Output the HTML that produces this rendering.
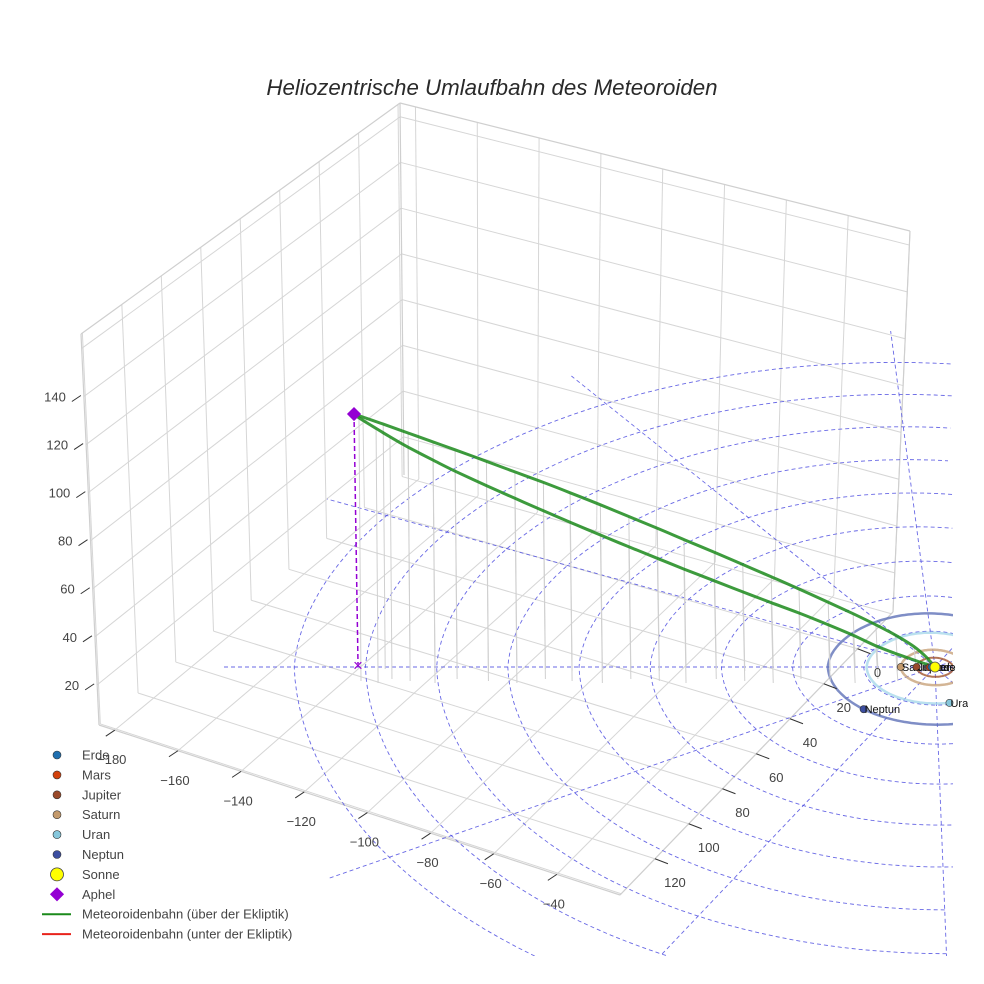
<!DOCTYPE html>
<html><head><meta charset="utf-8"><style>
html,body{margin:0;padding:0;background:#fff;width:984px;height:984px;overflow:hidden;}
svg{display:block;font-family:"Liberation Sans",sans-serif;}
</style></head><body>
<svg id="chart" width="984" height="984" viewBox="0 0 984 984" xmlns="http://www.w3.org/2000/svg">
<defs>
<clipPath id="sceneClip"><rect x="0" y="0" width="953" height="956"/></clipPath>
<clipPath id="textClip"><rect x="0" y="0" width="968" height="956"/></clipPath>
</defs>
<rect width="984" height="984" fill="#fff"/>
<text x="492" y="95" text-anchor="middle" font-size="22.3" font-style="italic" fill="#2a2a2a">Heliozentrische Umlaufbahn des Meteoroiden</text>
<g id="grid"></g>
<g id="eclip" clip-path="url(#sceneClip)"></g>
<g id="orbits" clip-path="url(#sceneClip)"></g>
<g id="drops"></g>
<g id="meteor"></g>
<g id="planets" clip-path="url(#textClip)"></g>
<g id="axes"></g>
<g id="legend"></g>
</svg>
<script>
// ---- data arrays ----
const xTicks=[-180,-160,-140,-120,-100,-80,-60,-40];
const xGrid=[-180,-160,-140,-120,-100,-80,-60,-40,-20];
const yTicks=[0,20,40,60,80,100,120];
const yGrid=[-20,0,20,40,60,80,100,120,140];
const zTicks=[20,40,60,80,100,120,140];
const zGrid=[20,40,60,80,100,120,140,160];
const ringRadii=[20,40,60,80,100,120,140,160,180];
const radialAngles=[0,30,60,90,120,150,180,210,240,270,300,330];
const radialLength=200;
// meteoroid orbit: distance along ecliptic (AU) and height above ecliptic (AU)
const upperD=[-163.2,-155,-148,-141,-134.8,-126,-118,-110,-102.5,-94,-86,-78,-70.5,-62,-54,-46,-38.2,-30,-23,-16.6,-11,-5.9,-2.5,0];
const upperH=[105.4,101.2,97.5,93.8,90.5,85.7,81.3,76.9,72.6,67.6,62.7,57.8,53.1,47.8,42.7,37.6,32.5,27,22.2,17.6,13.2,8.5,4.2,0];
const lowerD=[-163.2,-161.8,-157,-153.1,-148,-141,-134.8,-126,-118,-110,-102.5,-94,-86,-78,-70.5,-62,-54,-46,-38.2,-30,-23,-16.6,-11,-5.9,-2.5,0];
const lowerH=[105.4,103.8,99.4,95.9,91.6,86.2,81.6,75.6,70.3,65.1,60.3,55,50.1,45.3,40.8,35.9,31.3,26.8,22.5,17.6,13.2,8.8,5.6,2.9,1.2,0];
const aphelD=-163.2, aphelH=105.4;
const planetNames=["Erde","Mars","Jupiter","Saturn","Uran","Neptun"];
const planetR=[1,1.52,5.2,9.6,19.2,30.1];
const planetAngle=[180,175,180,180,79,133];
const planetColors=["#1f6fb0","#d2410c","#9a4a2a","#c49a6c","#86c7dc","#3c4ea0"];
const orbitColors=["#1f6fb0","#d2410c","#a0522d","#c8a27a","#a8d8ea","#5f72b8"];
const orbitWidths=[1,1,2,2.5,2.5,2.5];
const legendLabels=["Erde","Mars","Jupiter","Saturn","Uran","Neptun","Sonne","Aphel","Meteoroidenbahn (über der Ekliptik)","Meteoroidenbahn (unter der Ekliptik)"];

// ---- box projection ----
const xmin=-185,xmax=-20,ymin=-21,ymax=140.7,zmin=3.3,zmax=166;
const BL=[404,475],BR=[893,612],FL=[99,725],FR=[620,895],TBL=[400,103],TBR=[910,231],TFL=[81,334];
function lerp(a,b,t){return [a[0]+(b[0]-a[0])*t,a[1]+(b[1]-a[1])*t];}
function floorP(x,y){const u=(x-xmin)/(xmax-xmin),v=(y-ymin)/(ymax-ymin);return lerp(lerp(BL,BR,u),lerp(FL,FR,u),v);}
function leftP(y,z){const v=(y-ymin)/(ymax-ymin),w=(z-zmin)/(zmax-zmin);return lerp(lerp(BL,FL,v),lerp(TBL,TFL,v),w);}
function backP(x,z){const u=(x-xmin)/(xmax-xmin),w=(z-zmin)/(zmax-zmin);return lerp(lerp(BL,BR,u),lerp(TBL,TBR,u),w);}
// ---- ecliptic projection ----
const SX=935,SY=667,CLIPX=953,CLIPY=956;
function ecl(r,deg){const t=deg*Math.PI/180,c=Math.cos(t),s=Math.sin(t);
  let Y,X;
  if(s<0){Y=r*s*(1.8-0.0006*r);X=3.56*(1-0.1*Math.abs(s))*r*c+0.132*Y;}
  else{Y=r*s*(1.88+0.0012*r);X=3.56*r*c+0.04*Y;}
  return [SX+X,SY+Y];}
function orb(d,h){return [SX+3.56*d,SY-2.4*h];}
function inside(p){return p[0]<=CLIPX+4&&p[1]<=CLIPY+4;}

const NS="http://www.w3.org/2000/svg";
function mk(tag,attrs,parent){const e=document.createElementNS(NS,tag);for(const k in attrs)e.setAttribute(k,attrs[k]);parent.appendChild(e);return e;}
function line(p,q,attrs,parent){return mk('line',Object.assign({x1:p[0],y1:p[1],x2:q[0],y2:q[1]},attrs),parent);}
function smoothPath(pts){let d='M'+pts[0][0].toFixed(1)+' '+pts[0][1].toFixed(1);
  for(let i=0;i<pts.length-1;i++){const p0=pts[Math.max(0,i-1)],p1=pts[i],p2=pts[i+1],p3=pts[Math.min(pts.length-1,i+2)];
    const c1=[p1[0]+(p2[0]-p0[0])/6,p1[1]+(p2[1]-p0[1])/6],c2=[p2[0]-(p3[0]-p1[0])/6,p2[1]-(p3[1]-p1[1])/6];
    d+='C'+c1[0].toFixed(1)+' '+c1[1].toFixed(1)+' '+c2[0].toFixed(1)+' '+c2[1].toFixed(1)+' '+p2[0].toFixed(1)+' '+p2[1].toFixed(1);}
  return d;}
const G=id=>document.getElementById(id);

// grid
const grid=G('grid');
const gs={stroke:'#d6d6d6','stroke-width':1};
yGrid.forEach(y=>{let l=line(leftP(y,zmin),leftP(y,zmax),gs,grid);


l=line(floorP(xmin,y),floorP(xmax,y),gs,grid);

});
zGrid.forEach(z=>{let l=line(leftP(ymin,z),leftP(ymax,z),gs,grid);


l=line(backP(xmin,z),backP(xmax,z),gs,grid);

});
xGrid.forEach(x=>{let l=line(backP(x,zmin),backP(x,zmax),gs,grid);


l=line(floorP(x,ymin),floorP(x,ymax),gs,grid);

});
[[FL,FR],[FL,TFL],[BL,TBL],[TBL,TBR],[TBL,TFL],[BR,TBR],[FR,BR]].forEach(([a,b])=>{const l=line(a,b,{stroke:'#cfcfcf','stroke-width':1.2},grid);

});

// ticks & labels
const axes=G('axes');
xTicks.forEach(x=>{const p=floorP(x,ymax);
const l=line(p,[p[0]-9,p[1]+6],{stroke:'#333','stroke-width':1},axes);


const t=mk('text',{x:p[0]-3,y:p[1]+34,'text-anchor':'middle','font-size':13,fill:'#444'},axes);
t.textContent='\u2212'+Math.abs(x);

});
yTicks.forEach(y=>{const p=floorP(xmax,y);
const l=line(p,[p[0]+13,p[1]+5],{stroke:'#333','stroke-width':1},axes);


const t=mk('text',{x:p[0]+20,y:p[1]+28,'text-anchor':'middle','font-size':13,fill:'#444'},axes);
t.textContent=String(y);

});
zTicks.forEach(z=>{const p=leftP(ymax,z);
const l=line([p[0]-3,p[1]-1],[p[0]-12,p[1]+5],{stroke:'#333','stroke-width':1},axes);


const t=mk('text',{x:p[0]-18,y:p[1]+5,'text-anchor':'end','font-size':13,fill:'#444'},axes);
t.textContent=String(z);

});

// ecliptic rings and radials (geometry trimmed to the scene box)
const eclip=G('eclip');
const ds={fill:'none',stroke:'#4d4de0','stroke-width':0.9,'stroke-dasharray':'4,3',opacity:0.85};
function ringPath(r){let d='',pen=false;for(let a=0;a<=360;a+=2){const p=ecl(r,a);
  if(inside(p)){d+=(pen?'L':'M')+p[0].toFixed(1)+' '+p[1].toFixed(1);pen=true;}else pen=false;}return d||'M0 0';}
ringRadii.forEach(r=>{const e=mk('path',Object.assign({d:ringPath(r)},ds),eclip);

});
radialAngles.forEach(a=>{let len=radialLength;let q=ecl(len,a);
while(!inside(q)&&len>2){len-=2;q=ecl(len,a);}
const e=line([SX,SY],q,ds,eclip);

});

// planet orbits
const orbits=G('orbits');
planetR.forEach((r,i)=>{const e=mk('path',{d:ringPath(r),fill:'none',stroke:orbitColors[i],'stroke-width':orbitWidths[i],opacity:0.8},orbits);

});

// drop lines
const drops=G('drops');
[[upperD,upperH,0],[lowerD,lowerH,12]].forEach(([D,H,off])=>{D.forEach((d,i)=>{if(i===0||H[i]<3)return;const p=orb(d,H[i]);
const e=line(p,[p[0]+2,SY+off+(i%3)*2],{stroke:'#d0d0d0','stroke-width':1},drops);

});});
const ap=orb(aphelD,aphelH);
let ad=line(ap,[ap[0]+4,SY-3],{stroke:'#9400d3','stroke-width':1.5,'stroke-dasharray':'5,3'},drops);


const xg=mk('text',{x:ap[0]+4,y:SY+4,'text-anchor':'middle','font-size':17,fill:'#9400d3'},drops);
xg.textContent='\u00d7';



// meteoroid orbit
const met=G('meteor');
[[upperD,upperH,'upper'],[lowerD,lowerH,'lower']].forEach(([D,H,n])=>{const pts=D.map((d,i)=>orb(d,H[i]));
const e=mk('path',{d:smoothPath(pts),fill:'none',stroke:'#1b8a1b','stroke-width':3,'stroke-linejoin':'round',opacity:0.85},met);

});
const dm=mk('rect',{x:ap[0]-5,y:ap[1]-5,width:10,height:10,fill:'#9400d3',transform:`rotate(45 ${ap[0]} ${ap[1]})`},met);



// planets
const pl=G('planets');
for(let i=planetR.length-1;i>=0;i--){const p=ecl(planetR[i],planetAngle[i]);
const c=mk('circle',{cx:p[0],cy:p[1],r:3.6,fill:planetColors[i],stroke:'#333','stroke-width':0.6},pl);


const t=mk('text',{x:p[0]+1,y:p[1]+4,'font-size':11,fill:'#111'},pl);
t.textContent=planetNames[i];

}
const sun=mk('circle',{cx:SX,cy:SY,r:5,fill:'#ffff00',stroke:'#555','stroke-width':0.8},pl);



// legend
const lg=G('legend');
const legendColors=planetColors.concat(['#ffff00','#9400d3','#1b8a1b','#e8231b']);
legendLabels.forEach((lab,i)=>{const y=755+i*19.9;
let m;
if(i<6){m=mk('circle',{cx:57,cy:y,r:4,fill:legendColors[i],stroke:'#333','stroke-width':0.6},lg);}
else if(i===6){m=mk('circle',{cx:57,cy:y,r:6.5,fill:'#ffff00',stroke:'#444','stroke-width':0.8},lg);}
else if(i===7){m=mk('rect',{x:52,y:y-5,width:10,height:10,fill:'#9400d3',transform:`rotate(45 57 ${y})`},lg);}
else{m=line([42,y],[71,y],{stroke:legendColors[i],'stroke-width':2},lg);}


const t=mk('text',{x:82,y:y+4.5,'font-size':13,fill:'#444'},lg);
t.textContent=lab;

});
</script>
</body></html>
